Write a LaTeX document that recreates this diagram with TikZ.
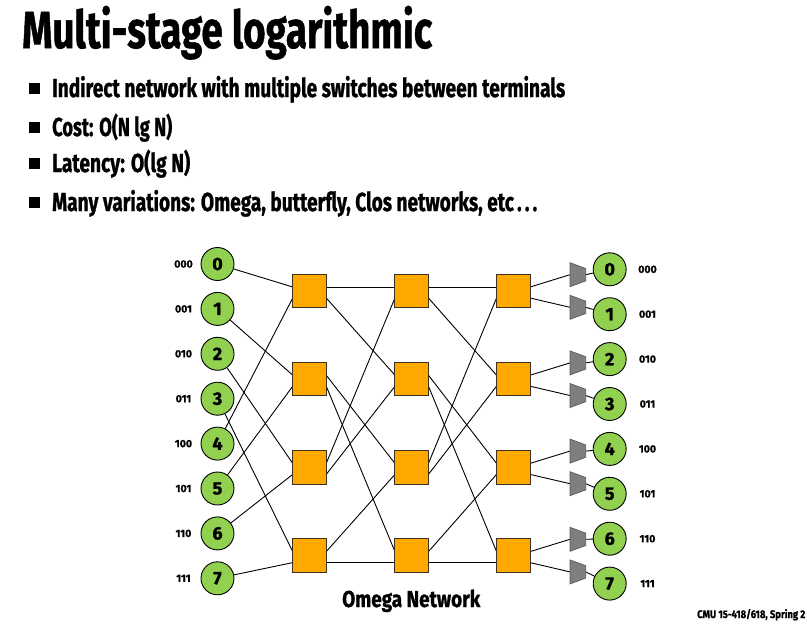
\documentclass[tikz,border=0pt]{standalone}
\usepackage{fontspec}
\setmainfont{Fira Sans}[BoldFeatures={FakeBold=1.2}]
\usetikzlibrary{backgrounds}

\definecolor{nodegreen}{HTML}{92D050}
\definecolor{switchorange}{HTML}{FFA800}
\definecolor{demuxgray}{HTML}{7F7F7F}
\definecolor{switchedge}{HTML}{3C3020}

% squeeze a text horizontally to a given width, keeping its natural height
\newcommand{\fitw}[2]{\resizebox{#1}{\height}{#2}}

\begin{document}
\begin{tikzpicture}[x=1pt,y=-1pt,
  term/.style={circle, draw=black, line width=0.9pt, fill=nodegreen,
    minimum size=33pt, inner sep=0pt, font=\fontsize{18}{18}\selectfont\bfseries},
  bits/.style={inner sep=0pt, font=\fontsize{10.5}{10.5}\selectfont\bfseries},
  switchbox/.style={rectangle, draw=switchedge, line width=1pt, fill=switchorange,
    minimum size=33.5pt, inner sep=0pt},
  link/.style={draw=black, line width=0.9pt},
  demux/.style={draw=black!65, line width=0.7pt, fill=demuxgray},
  bulletbox/.style={fill=black, minimum size=11pt, inner sep=0pt},
  textline/.style={anchor=base west, inner sep=0pt}
]
\useasboundingbox (0,0) rectangle (807,624);

% title and bullet list
\node[textline] (title) at (22,48)
  {\fitw{410pt}{\fontsize{52}{52}\selectfont\bfseries Multi-stage logarithmic}};

\node[bulletbox] (b1) at (34,88) {};
\node[textline] (t1) at (52,97)
  {\fitw{513pt}{\fontsize{26}{26}\selectfont\bfseries Indirect network with multiple switches between terminals}};
\node[bulletbox] (b2) at (34,127) {};
\node[textline] (t2) at (52,136)
  {\fitw{120pt}{\fontsize{26}{26}\selectfont\bfseries Cost: O(N lg N)}};
\node[bulletbox] (b3) at (34,163) {};
\node[textline] (t3) at (52,172)
  {\fitw{138pt}{\fontsize{26}{26}\selectfont\bfseries Latency: O(lg N)}};
\node[bulletbox] (b4) at (34,202) {};
\node[textline] (t4) at (52,211)
  {\fitw{485pt}{\fontsize{26}{26}\selectfont\bfseries Many variations: Omega, butterfly, Clos networks, etc\,.\,.\,.}};

% input terminals
\foreach \i/\b in {0/000,1/001,2/010,3/011,4/100,5/101,6/110,7/111} {
  \pgfmathsetmacro\yin{264+44.9*\i}
  \node[term] (in\i) at (217.5,\yin) {\i};
  \node[bits] (inb\i) at (183.5,\yin) {\b};
}

% output terminals
\foreach \i/\b in {0/000,1/001,2/010,3/011,4/100,5/101,6/110,7/111} {
  \pgfmathsetmacro\yout{269.3+44.9*\i}
  \node[term] (out\i) at (609.7,\yout) {\i};
  \node[bits] (outb\i) at (647.5,\yout) {\b};
}

% three stages of 2x2 switches with their port points
\foreach \s/\x in {1/309.5,2/411.7,3/513.3} {
  \foreach \j in {0,...,3} {
    \pgfmathsetmacro\ys{291+88.2*\j}
    \node[switchbox] (sw\s\j) at (\x,\ys) {};
    \coordinate (sw\s\j-lu) at (\x-16.75,\ys-4);
    \coordinate (sw\s\j-ll) at (\x-16.75,\ys+7);
    \coordinate (sw\s\j-ru) at (\x+16.75,\ys-4);
    \coordinate (sw\s\j-rl) at (\x+16.75,\ys+7);
  }
}

% demultiplexers in front of the outputs
\foreach \k in {0,...,7} {
  \pgfmathsetmacro\yd{291+88.2*floor(\k/2)+32.6*mod(\k,2)-16.3}
  \draw[demux] (570,\yd-12) -- (585.7,\yd-6.2) -- (585.7,\yd+6.2) -- (570,\yd+12) -- cycle;
  \coordinate (dmL\k) at (570,\yd);
  \coordinate (dmR\k) at (585.7,\yd);
}

\begin{pgfonlayer}{background}
  % perfect shuffle from the inputs into stage 1
  \foreach \i/\t/\p in {0/0/lu,1/1/lu,2/2/lu,3/3/lu,4/0/ll,5/1/ll,6/2/ll,7/3/ll}
    \draw[link] (in\i) -- (sw1\t-\p);
  % perfect shuffle between stages
  \foreach \a/\b in {1/2,2/3} {
    \foreach \j/\k/\t/\p in {0/ru/0/lu,0/rl/1/lu,1/ru/2/lu,1/rl/3/lu,
                             2/ru/0/ll,2/rl/1/ll,3/ru/2/ll,3/rl/3/ll}
      \draw[link] (sw\a\j-\k) -- (sw\b\t-\p);
  }
  % stage 3 into the demultiplexers, and on to the outputs
  \foreach \j/\u/\l in {0/0/1,1/2/3,2/4/5,3/6/7} {
    \draw[link] (sw3\j-ru) -- (dmL\u);
    \draw[link] (sw3\j-rl) -- (dmL\l);
  }
  \foreach \k in {0,...,7}
    \draw[link] (dmR\k) -- (out\k);
\end{pgfonlayer}

% captions
\node[textline] (caption) at (342,607)
  {\fitw{138pt}{\fontsize{23}{23}\selectfont\bfseries Omega Network}};
\node[textline] (footer) at (697,618)
  {\fitw{108pt}{\fontsize{11}{11}\selectfont\bfseries CMU 15-418/618, Spring 2}};
\end{tikzpicture}
\end{document}
